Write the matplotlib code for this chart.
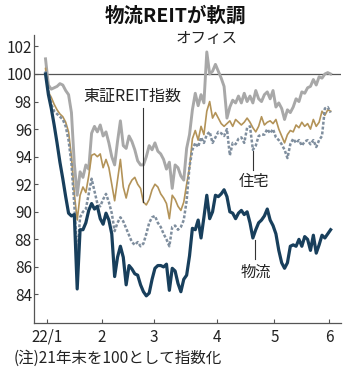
import numpy as np
import matplotlib
matplotlib.use("Agg")
import matplotlib.pyplot as plt

plt.rcParams['font.family'] = ['Noto Sans CJK JP', 'DejaVu Sans']

# 2022年1月4日からの営業日ごとの指数（21年末=100）
office = [101.1, 99.2, 98.9, 99.0, 99.1, 99.3, 99.2, 98.8, 98.5, 97.2,
          93.5, 91.2, 92.9, 92.5, 93.4, 93.1, 95.7, 96.2, 95.8, 96.3,
          95.5, 95.8, 95.0, 94.0, 93.4, 95.1, 96.6, 94.8, 94.6, 95.5,
          95.1, 94.5, 93.7, 93.4, 93.4, 94.0, 94.8, 94.5, 95.0, 94.4,
          94.2, 93.8, 93.1, 93.6, 91.7, 93.4, 93.2, 92.6, 92.3, 94.6,
          95.6, 97.4, 98.6, 97.7, 98.5, 97.9, 101.6, 100.0, 100.2, 100.7,
          100.2, 99.7, 99.1, 96.8, 97.6, 98.1, 97.9, 98.4, 97.9, 98.6,
          98.0, 98.4, 97.9, 98.8, 98.2, 98.0, 98.5, 98.7, 98.2, 98.8,
          97.6, 97.9, 97.5, 96.7, 97.4, 97.2, 97.6, 98.2, 98.0, 98.7,
          98.6, 99.0, 99.1, 99.6, 99.2, 99.8, 99.7, 100.0, 100.1, 100.0]

reit_index = [100.4, 98.7, 98.3, 97.8, 97.4, 97.1, 96.9, 96.5, 95.8, 94.0,
              91.3, 89.4, 91.2, 91.8, 91.4, 92.6, 94.1, 94.2, 94.0, 94.2,
              93.2, 93.8, 93.2, 92.0, 90.8, 92.3, 93.8, 91.8, 91.0, 91.9,
              92.3, 92.5, 92.0, 91.7, 90.7, 90.5, 90.9, 91.6, 92.0, 91.8,
              91.3, 91.0, 90.6, 89.5, 91.2, 90.9, 90.4, 90.1, 90.7, 92.0,
              93.2, 95.3, 95.9, 95.2, 96.2, 95.6, 97.3, 98.0, 96.8, 97.2,
              96.8, 96.4, 96.2, 96.4, 96.6, 96.2, 96.7, 96.5, 96.3, 96.5,
              96.8, 96.5, 96.1, 95.8, 96.2, 96.9, 96.3, 96.5, 96.6, 96.4,
              96.7, 96.0, 95.5, 95.0, 95.6, 95.9, 95.8, 96.3, 96.1, 96.5,
              96.2, 96.4, 96.0, 96.7, 96.2, 96.5, 97.3, 97.0, 97.4, 97.3]

residential = [100.2, 98.8, 97.8, 97.3, 97.1, 96.9, 96.7, 96.2, 95.2, 93.5,
               90.5, 86.8, 89.6, 90.0, 90.2, 91.3, 92.4, 91.5, 90.6, 90.4,
               90.9, 91.3, 90.7, 89.9, 88.6, 89.2, 89.6, 89.3, 88.8, 88.3,
               87.8, 87.6, 87.8, 87.5, 87.7, 88.4, 89.2, 89.6, 89.7, 89.2,
               88.9, 88.4, 88.0, 87.5, 88.9, 89.0, 88.7, 88.9, 89.4, 90.8,
               93.3, 94.5, 95.0, 94.7, 95.4, 95.0, 95.6, 95.8, 95.0, 95.4,
               95.8, 95.7, 95.5, 96.0, 94.1, 95.0, 94.9, 95.3, 95.4, 95.0,
               96.1, 96.2, 94.5, 94.8, 95.5, 95.6, 95.6, 96.0, 95.7, 96.0,
               95.4, 95.2, 94.9, 94.5, 93.9, 94.9, 95.3, 95.0, 95.2, 94.8,
               95.1, 95.2, 94.9, 95.2, 94.7, 95.2, 95.5, 97.5, 97.6, 97.2]

logistics = [100.0, 98.5, 97.5, 96.3, 95.0, 93.6, 92.4, 91.1, 89.9, 89.7,
             89.8, 84.4, 88.7, 88.7, 89.2, 90.1, 90.6, 90.2, 90.4, 89.5,
             89.1, 89.9, 89.4, 88.4, 85.3, 86.7, 87.5, 86.7, 84.7, 86.1,
             85.85, 85.5, 85.4, 84.7, 84.2, 83.9, 84.1, 85.1, 85.9, 86.1,
             86.1, 86.0, 86.2, 84.3, 85.9, 85.7, 84.8, 84.2, 85.1, 85.4,
             86.8, 88.8, 88.7, 89.4, 88.1, 89.6, 91.2, 89.5, 90.0, 91.2,
             91.1, 91.3, 91.6, 91.1, 90.0, 89.9, 89.5, 89.9, 90.1, 89.8,
             90.0, 89.2, 88.1, 88.7, 89.2, 89.4, 89.7, 90.2, 89.4, 89.0,
             88.4, 87.2, 86.3, 85.9, 86.3, 87.5, 87.6, 87.5, 88.0, 87.5,
             88.2, 88.0, 87.2, 88.3, 87.0, 87.6, 88.3, 88.1, 88.4, 88.7]

month_labels = ['22/1', '2', '3', '4', '5', '6']
month_ticks = [0.5, 19.5, 37.5, 59.5, 79.5, 98.5]
y_ticks = [84, 86, 88, 90, 92, 94, 96, 98, 100, 102]

W, H = 350, 374
fig = plt.figure(figsize=(W / 100, H / 100), dpi=100)
ax = fig.add_axes([34 / W, 1 - 323 / H, 307 / W, 288 / H])

x = np.arange(len(office))
axis_color = '#555555'
text_color = '#222222'

ax.axhline(100, color=axis_color, lw=0.9, zorder=1)
ax.plot(x, office, color='#a8a8a8', lw=2.1, zorder=2)
ax.plot(x, reit_index, color='#b39358', lw=1.2, zorder=3)
ax.plot(x, residential, color='#7f8e9e', lw=1.8, ls=(0, (1.2, 0.75)), zorder=4)
ax.plot(x, logistics, color='#183f5c', lw=2.3, zorder=5)

ax.set_xlim(-4, 102.6)
ax.set_ylim(81.93, 102.83)
ax.set_xticks(month_ticks)
ax.set_xticklabels(month_labels)
ax.set_yticks(y_ticks)

for side in ['top', 'right']:
    ax.spines[side].set_visible(False)
for side in ['left', 'bottom']:
    ax.spines[side].set_color(axis_color)
    ax.spines[side].set_linewidth(0.9)
ax.tick_params(axis='both', direction='in', length=3, width=0.8,
               color=axis_color, labelsize=11, labelcolor=text_color)
ax.tick_params(axis='y', pad=1.5)
ax.tick_params(axis='x', pad=4)

# 系列名と引き出し線
lead = dict(color='#333333', lw=0.8, zorder=6)
ax.plot([34, 34], [reit_index[34], 97.5], **lead)
ax.text(30.2, 97.75, '東証REIT指数', fontsize=11.5, ha='center', va='bottom',
        color=text_color)
ax.text(56, 102.55, 'オフィス', fontsize=11.2, ha='center', va='center',
        color=text_color)
ax.plot([72, 72], [residential[72] - 0.1, 93.0], **lead)
ax.text(72.5, 92.2, '住宅', fontsize=11, ha='center', va='center',
        color=text_color)
ax.plot([72.6, 72.6], [logistics[72] - 0.15, 86.6], **lead)
ax.text(73, 85.6, '物流', fontsize=11, ha='center', va='center',
        color=text_color)

fig.text(175 / W, 1 - 16 / H, '物流REITが軟調', fontsize=14,
         fontweight='bold', ha='center', va='center', color='#111111')
fig.text(14 / W, 1 - 358 / H, '(注)21年末を100として指数化', fontsize=11.2,
         ha='left', va='center', color=text_color)

fig.savefig('out.png', dpi=100, facecolor='white')
